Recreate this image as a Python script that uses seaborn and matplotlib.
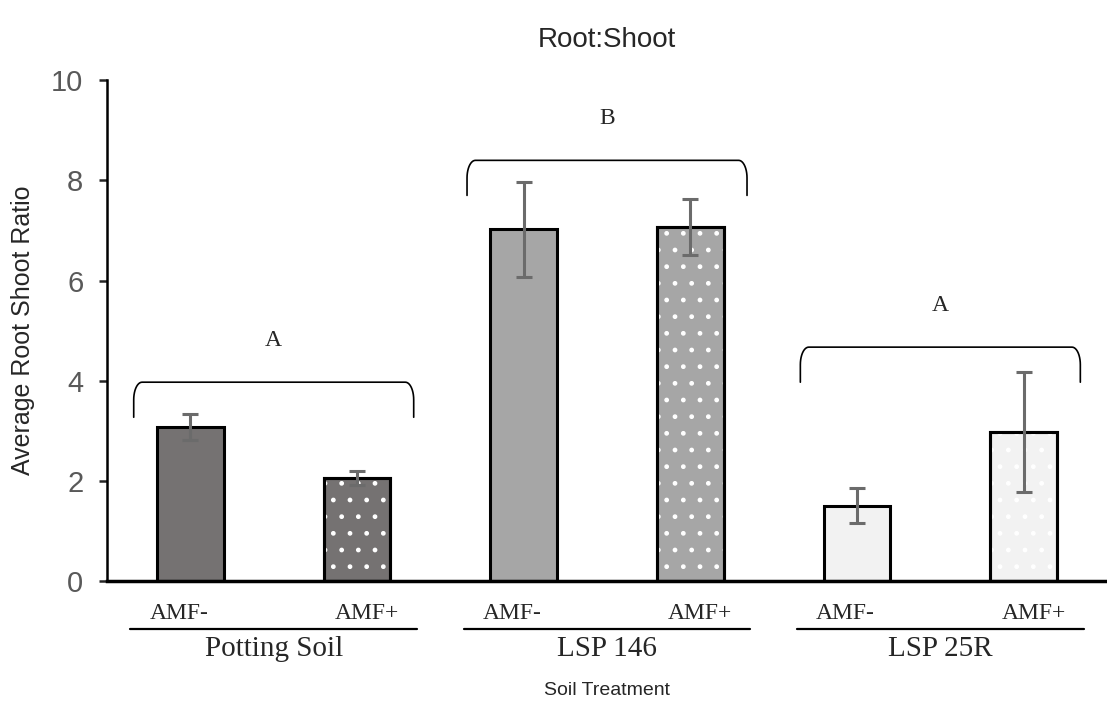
import pandas as pd
import numpy as np
import matplotlib
matplotlib.use("Agg")
import matplotlib.pyplot as plt
import matplotlib.transforms as mtransforms
from matplotlib.patches import Rectangle
import seaborn as sns

# Datos
soils = ["Potting Soil", "LSP 146", "LSP 25R"]
treatments = ["AMF-", "AMF+"]
ratio_mean = [3.07, 2.06, 7.02, 7.06, 1.50, 2.98]
ratio_err = [0.26, 0.14, 0.95, 0.56, 0.35, 1.20]
group_letters = ["A", "B", "A"]
bracket_y = [3.97, 8.40, 4.67]
soil_colors = ["#767171", "#a6a6a6", "#f2f2f2"]

df = pd.DataFrame({
    "soil": np.repeat(soils, 2),
    "treatment": treatments * 3,
    "ratio": ratio_mean,
    "err": ratio_err,
})
df["bar"] = df["soil"] + " " + df["treatment"]
bar_colors = list(np.repeat(soil_colors, 2))

sns.set_style("white")
plt.rcParams["font.family"] = ["Liberation Sans", "DejaVu Sans"]

fig, ax = plt.subplots(figsize=(11.07, 7.10), dpi=100)
fig.subplots_adjust(left=0.0967, right=1.0, bottom=0.1817, top=0.887)

sns.barplot(data=df, x="bar", y="ratio", hue="bar", palette=bar_colors,
            legend=False, width=0.4, edgecolor="black", linewidth=2.2,
            errorbar=None, ax=ax)

# puntos blancos en las barras AMF+
for patch, trt in zip(ax.patches, df["treatment"]):
    if trt == "AMF+":
        dots = Rectangle(patch.get_xy(), patch.get_width(), patch.get_height(),
                         facecolor="none", edgecolor="white", hatch=".",
                         linewidth=0, zorder=patch.get_zorder() + 0.1)
        ax.add_patch(dots)
        edge = Rectangle(patch.get_xy(), patch.get_width(), patch.get_height(),
                         facecolor="none", edgecolor="black", linewidth=2.2,
                         zorder=patch.get_zorder() + 0.2)
        ax.add_patch(edge)

xpos = np.arange(len(df))
ax.errorbar(xpos, df["ratio"], yerr=df["err"], fmt="none", ecolor="#6b6b6b",
            elinewidth=2.2, capsize=6, capthick=2.2, zorder=5)

# corchetes y letras (esquinas redondeadas)
t = np.linspace(0, np.pi / 2, 12)
rx, ry = 0.05, 0.35
for i, (letter, by) in enumerate(zip(group_letters, bracket_y)):
    c = 2 * i + 0.5
    x0, x1 = c - 0.84, c + 0.84
    leg = 0.7
    left_x = np.concatenate([[x0], x0 + rx * (1 - np.cos(t))])
    left_y = np.concatenate([[by - leg], by - ry * (1 - np.sin(t))])
    bx = np.concatenate([left_x, (x0 + x1) - left_x[::-1]])
    byy = np.concatenate([left_y, left_y[::-1]])
    ax.plot(bx, byy, color="black", lw=1.2)
    ax.text(c, by + 0.84, letter, ha="center", va="center",
            family="Liberation Serif", fontsize=17)

ax.set_ylim(0, 10)
ax.set_xlim(-0.5, 5.5)
ax.set_yticks(range(0, 11, 2))
ax.tick_params(axis="y", labelsize=21, labelcolor="#595959", length=6,
               width=1.8, direction="out", left=True, pad=11)
ax.set_xticks([])
ax.set_xlabel("")
ax.set_ylabel("Average Root Shoot Ratio", fontsize=18, labelpad=12)
ax.set_title("Root:Shoot", fontsize=20, pad=24)

for s in ["top", "right"]:
    ax.spines[s].set_visible(False)
ax.spines["left"].set_linewidth(1.8)
ax.spines["left"].set_color("black")
ax.spines["bottom"].set_linewidth(2.5)
ax.spines["bottom"].set_color("black")

# etiquetas de eje x en dos niveles
trans = mtransforms.blended_transform_factory(ax.transData, ax.transAxes)
for i, soil in enumerate(soils):
    c = 2 * i + 0.5
    ax.text(2 * i - 0.07, -0.064, treatments[0], transform=trans, ha="center",
            va="center", family="Liberation Serif", fontsize=17)
    ax.text(2 * i + 1 + 0.06, -0.064, treatments[1], transform=trans, ha="center",
            va="center", family="Liberation Serif", fontsize=17)
    ax.plot([c - 0.86, c + 0.86], [-0.096, -0.096], transform=trans,
            color="black", lw=1.6, clip_on=False)
    ax.text(c, -0.136, soil, transform=trans, ha="center", va="center",
            family="Liberation Serif", fontsize=21)

ax.text(0.5, -0.218, "Soil Treatment", transform=ax.transAxes, ha="center",
        va="center", fontsize=14)

plt.savefig("out.png", dpi=100)
